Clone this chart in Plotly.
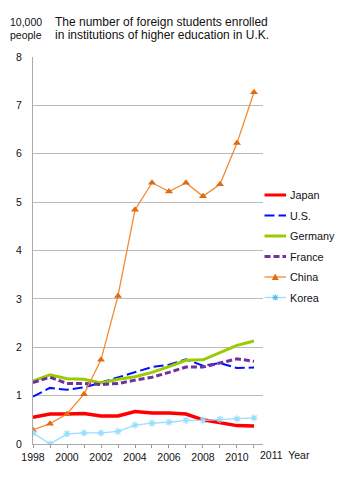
import plotly.graph_objects as go

years = list(range(1998, 2012))

japan = [0.55, 0.62, 0.62, 0.63, 0.58, 0.58, 0.67, 0.64, 0.64, 0.62, 0.50, 0.44, 0.38, 0.37]
us = [0.98, 1.16, 1.12, 1.17, 1.27, 1.38, 1.49, 1.59, 1.64, 1.75, 1.62, 1.67, 1.57, 1.58]
germany = [1.30, 1.43, 1.35, 1.34, 1.26, 1.34, 1.39, 1.48, 1.60, 1.73, 1.74, 1.89, 2.04, 2.13]
france = [1.27, 1.38, 1.25, 1.25, 1.23, 1.25, 1.32, 1.38, 1.48, 1.59, 1.59, 1.67, 1.76, 1.71]
china = [0.29, 0.42, 0.62, 1.03, 1.74, 3.06, 4.84, 5.40, 5.22, 5.40, 5.12, 5.37, 6.22, 7.27]
korea = [0.23, 0.00, 0.21, 0.23, 0.23, 0.26, 0.39, 0.43, 0.45, 0.49, 0.49, 0.51, 0.52, 0.54]

x_tick_labels = ["1998", "", "2000", "", "2002", "", "2004", "", "2006", "", "2008", "", "2010", ""]
y_ticks = [0, 1, 2, 3, 4, 5, 6, 7, 8]

unit_lines = ["10,000", "people"]
title_lines = ["The number of foreign students enrolled",
               "in institutions of higher education in U.K."]

FONT = "Liberation Sans, Arial, sans-serif"
W, H = 345, 478
ML, MR, MT, MB = 33, 82, 57, 34
PW, PH = W - ML - MR, H - MT - MB


def px_x(px):
    return (px - ML) / PW


def px_y(py):
    return (H - MB - py) / PH


series = [
    dict(name="Japan", y=japan, mode="lines", line=dict(color="#ff0000", width=3.5)),
    dict(name="U.S.", y=us, mode="lines", line=dict(color="#0010ff", width=2, dash="10px,4px")),
    dict(name="Germany", y=germany, mode="lines", line=dict(color="#99cc00", width=3)),
    dict(name="France", y=france, mode="lines", line=dict(color="#7030a0", width=3, dash="6px,3px")),
    dict(name="China", y=china, mode="lines+markers", line=dict(color="#f38a30", width=1.3),
         marker=dict(symbol="triangle-up", size=7, color="#e06a10")),
    dict(name="Korea", y=korea, mode="lines+markers", line=dict(color="#99ddff", width=1.3),
         marker=dict(symbol="asterisk-open", size=6, line=dict(color="#55bbee", width=1.2))),
]

fig = go.Figure()
for s in series:
    fig.add_trace(go.Scatter(x=years, y=s["y"], name=s["name"], mode=s["mode"],
                             line=s["line"], marker=s.get("marker"), showlegend=False))

fig.update_layout(
    width=W, height=H,
    margin=dict(l=ML, r=MR, t=MT, b=MB),
    paper_bgcolor="white", plot_bgcolor="white",
    font=dict(family=FONT, size=10.5, color="#111"),
    showlegend=False,
    xaxis=dict(range=[1998, 2011.53], tickvals=years, ticktext=x_tick_labels,
               ticks="outside", ticklen=3, tickcolor="#999", showgrid=False,
               showline=True, linecolor="#aaa", linewidth=1, zeroline=False,
               tickfont=dict(size=10.5)),
    yaxis=dict(range=[0, 8], tickvals=y_ticks, showgrid=True, gridcolor="#bbb",
               gridwidth=1, showline=True, linecolor="#aaa", linewidth=1,
               zeroline=False, ticks="", ticklabelstandoff=8,
               tickfont=dict(size=10.5)),
)

# Legend drawn at the right of the plot area
leg_x0, leg_x1, leg_text = 264.5, 286, 287.5
leg_y0, leg_step = 195, 20.5
for i, s in enumerate(series):
    yy = px_y(leg_y0 + i * leg_step)
    ln = s["line"]
    fig.add_shape(type="line", xref="paper", yref="paper",
                  x0=px_x(leg_x0), x1=px_x(leg_x1), y0=yy, y1=yy,
                  line=dict(color=ln["color"], width=min(ln["width"], 3),
                            dash=ln.get("dash", "solid")))
    fig.add_annotation(text=s["name"], xref="paper", yref="paper", x=px_x(leg_text), y=yy,
                       xanchor="left", yanchor="middle", showarrow=False,
                       font=dict(size=10.8, color="#111"))
    cx = (leg_x0 + leg_x1) / 2
    cy = leg_y0 + i * leg_step
    if s["name"] == "China":
        path = "M {} {} L {} {} L {} {} Z".format(
            px_x(cx - 3.5), px_y(cy + 3), px_x(cx + 3.5), px_y(cy + 3), px_x(cx), px_y(cy - 3.5))
        fig.add_shape(type="path", xref="paper", yref="paper", path=path,
                      fillcolor="#e06a10", line=dict(width=0))
    elif s["name"] == "Korea":
        for dx, dy in [(3, 0), (0, 3), (2.2, 2.2), (2.2, -2.2)]:
            fig.add_shape(type="line", xref="paper", yref="paper",
                          x0=px_x(cx - dx), x1=px_x(cx + dx), y0=px_y(cy - dy), y1=px_y(cy + dy),
                          line=dict(color="#55bbee", width=1.2))

# Unit label and title, one line each
for j, (u, t) in enumerate(zip(unit_lines, title_lines)):
    yy = px_y(22 + j * 13.5)
    fig.add_annotation(text=u, xref="paper", yref="paper", x=px_x(43.5), y=yy,
                       xanchor="right", yanchor="middle", showarrow=False,
                       font=dict(size=10.5))
    fig.add_annotation(text=t, xref="paper", yref="paper", x=px_x(52.5), y=yy,
                       xanchor="left", yanchor="middle", showarrow=False,
                       font=dict(size=12))

fig.add_annotation(text="2011  Year", xref="x", yref="paper", x=2011, y=0,
                   xanchor="left", yanchor="top", xshift=4, yshift=-3,
                   showarrow=False, font=dict(size=10.5))

fig.write_html("out.html")
